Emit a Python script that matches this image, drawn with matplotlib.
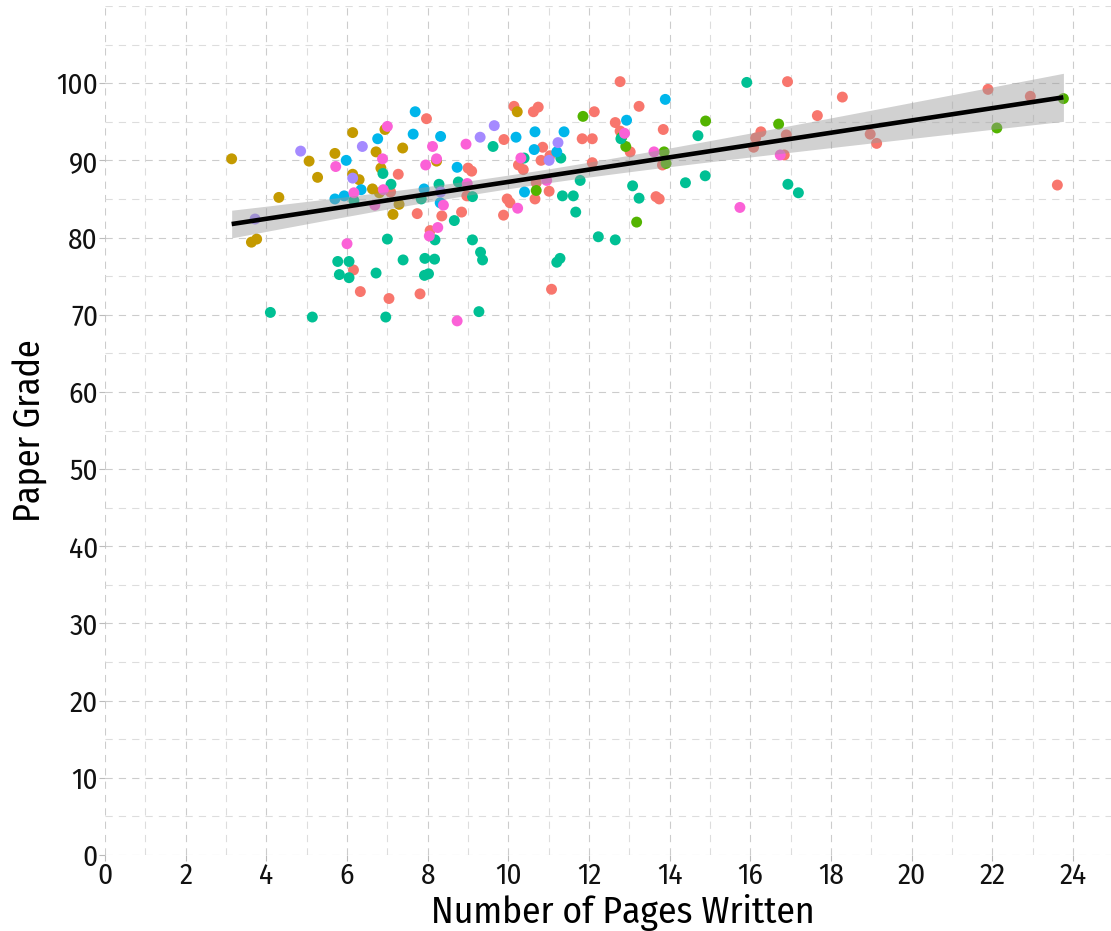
import numpy as np
import matplotlib
matplotlib.use("Agg")
import matplotlib.pyplot as plt
from matplotlib.ticker import MultipleLocator
from matplotlib import font_manager

avail = {f.name for f in font_manager.fontManager.ttflist}
fam = 'Lato'
for cand in ['Fira Sans Condensed', 'Roboto Condensed', 'Liberation Sans Narrow', 'Open Sans Condensed', 'Lato']:
    if cand in avail:
        fam = cand
        break
plt.rcParams['font.family'] = [fam, 'DejaVu Sans']

# ---- data ----
red_x = [7.27, 7.08, 7.74, 6.16, 6.33, 7.04, 7.97, 8.35, 8.06, 7.81, 8.84, 9.00, 9.09, 8.97, 9.88, 9.97, 10.04,
         9.89, 10.14, 10.62, 10.74, 10.25, 10.37, 10.85, 10.81, 11.03, 10.66, 10.69, 11.01, 11.07, 11.83, 12.08,
         12.13, 12.65, 12.08, 12.77, 13.24, 12.77, 12.85, 13.02, 13.84, 13.82, 13.66, 13.74, 16.08, 16.13, 16.26,
         16.89, 16.84, 16.92, 17.66, 18.28, 18.97, 19.13, 21.89, 22.94, 23.61]
red_y = [88.2, 85.9, 83.1, 75.8, 73.0, 72.1, 95.4, 82.8, 80.9, 72.7, 83.3, 89.0, 88.6, 85.4, 82.9, 85.0, 84.5,
         92.7, 97.0, 96.3, 96.9, 89.4, 88.8, 91.7, 90.0, 90.6, 85.0, 87.1, 86.0, 73.3, 92.8, 92.8,
         96.3, 94.9, 89.7, 100.2, 97.0, 93.8, 93.5, 91.1, 94.0, 89.4, 85.3, 85.0, 91.7, 92.9, 93.7,
         93.3, 90.7, 100.2, 95.8, 98.2, 93.4, 92.2, 99.2, 98.3, 86.8]

olive_x = [3.14, 3.63, 3.76, 4.31, 5.06, 5.27, 5.70, 6.14, 6.14, 6.30, 6.72, 6.84, 6.63, 6.80, 6.94, 7.38,
           7.14, 7.29, 8.22, 10.22]
olive_y = [90.2, 79.4, 79.8, 85.2, 89.9, 87.8, 90.9, 93.6, 88.2, 87.5, 91.1, 89.0, 86.3, 85.8, 94.0, 91.6,
           83.0, 84.3, 89.9, 96.3]

green_x = [11.85, 10.69, 12.81, 12.91, 13.86, 13.91, 13.18, 14.89, 16.70, 22.11, 23.76]
green_y = [95.7, 86.1, 93.0, 91.8, 91.1, 89.6, 82.0, 95.1, 94.7, 94.2, 98.0]

teal_x = [4.10, 5.14, 6.96, 5.77, 6.05, 5.81, 6.05, 6.72, 7.00, 7.39, 6.89, 7.09, 6.17, 7.93, 8.17, 7.92,
          8.02, 8.18, 8.66, 8.28, 8.76, 9.11, 9.11, 9.31, 9.36, 9.27, 9.62, 10.39, 11.30, 11.78, 11.34,
          11.61, 11.67, 11.20, 11.28, 12.23, 12.65, 7.84, 15.91, 13.08, 13.24, 14.39, 14.88, 14.70, 16.93,
          17.19, 12.79]
teal_y = [70.3, 69.7, 69.7, 76.9, 76.9, 75.2, 74.8, 75.4, 79.8, 77.1, 88.3, 86.9, 84.8, 77.3, 77.2, 75.1,
          75.3, 79.7, 82.2, 86.9, 87.2, 85.3, 79.7, 78.1, 77.1, 70.4, 91.8, 90.3, 90.3, 87.4, 85.4,
          85.4, 83.3, 76.8, 77.3, 80.1, 79.7, 85.0, 100.1, 86.7, 85.1, 87.1, 88.0, 93.2, 86.9,
          85.8, 92.8]

blue_x = [7.69, 8.32, 7.64, 6.76, 5.98, 6.35, 5.93, 5.70, 7.91, 8.31, 8.73, 10.19, 10.66, 10.64, 11.38,
          11.20, 10.40, 13.89, 12.93]
blue_y = [96.3, 93.1, 93.4, 92.8, 90.0, 86.2, 85.4, 85.0, 86.3, 84.5, 89.1, 93.0, 93.7, 91.4, 93.7,
          91.1, 85.9, 97.9, 95.2]

purple_x = [4.85, 3.72, 6.38, 6.14, 9.65, 9.30, 11.23, 11.01, 8.32]
purple_y = [91.2, 82.4, 91.8, 87.7, 94.5, 93.0, 92.3, 90.0, 85.9]

pink_x = [7.00, 8.12, 7.95, 8.22, 6.88, 5.72, 6.17, 6.90, 6.69, 8.25, 8.39, 6.00, 8.95, 8.98, 8.04, 8.73,
          10.23, 10.95, 10.31, 12.88, 13.61, 15.74, 16.74]
pink_y = [94.4, 91.8, 89.4, 90.2, 90.2, 89.2, 85.8, 86.2, 84.2, 81.3, 84.2, 79.2, 92.1, 87.0, 80.2, 69.2,
          83.8, 87.4, 90.3, 93.5, 91.1, 83.9, 90.7]

x_ticks = list(range(0, 25, 2))
y_ticks = list(range(0, 101, 10))

groups = [
    (red_x, red_y, '#F8766D'),
    (olive_x, olive_y, '#C49A00'),
    (green_x, green_y, '#53B400'),
    (teal_x, teal_y, '#00C094'),
    (blue_x, blue_y, '#00B6EB'),
    (purple_x, purple_y, '#A58AFF'),
    (pink_x, pink_y, '#FB61D7'),
]

fig = plt.figure(figsize=(11.11, 9.31), dpi=100)
ax = fig.add_axes([105 / 1111, 1 - 855 / 931, 1 - 105 / 1111, (855 - 6) / 931])

for gx, gy, col in groups:
    ax.scatter(gx, gy, s=62, color=col, edgecolors='none', zorder=2)

# linear fit with 95% confidence band
all_x = np.concatenate([np.asarray(g[0]) for g in groups])
all_y = np.concatenate([np.asarray(g[1]) for g in groups])
n = len(all_x)
b1, b0 = np.polyfit(all_x, all_y, 1)
resid = all_y - (b0 + b1 * all_x)
s = np.sqrt(np.sum(resid ** 2) / (n - 2))
xm = all_x.mean()
sxx = np.sum((all_x - xm) ** 2)
xs = np.linspace(all_x.min(), all_x.max(), 100)
fit = b0 + b1 * xs
se = s * np.sqrt(1 / n + (xs - xm) ** 2 / sxx)
tval = 1.973
ax.fill_between(xs, fit - tval * se, fit + tval * se, color='#999999', alpha=0.45,
                linewidth=0, zorder=3)
ax.plot(xs, fit, color='black', linewidth=3.3, zorder=4, solid_capstyle='butt')

ax.set_xlim(0, 24.94)
ax.set_ylim(0, 110)
ax.xaxis.set_major_locator(plt.FixedLocator(x_ticks))
ax.yaxis.set_major_locator(plt.FixedLocator(y_ticks))
ax.xaxis.set_minor_locator(MultipleLocator(1))
ax.yaxis.set_minor_locator(MultipleLocator(5))

ax.grid(True, which='major', color='#cccccc', linewidth=0.8, linestyle=(0, (6.5, 5.5)), zorder=0)
ax.grid(True, which='minor', color='#dddddd', linewidth=0.8, linestyle=(0, (6.5, 5.5)), zorder=0)
ax.set_axisbelow(True)
for sp in ax.spines.values():
    sp.set_visible(False)

ax.tick_params(axis='both', which='major', length=4, width=0.8, color='#bbbbbb',
               labelsize=21, labelcolor='#111111', pad=1)
ax.tick_params(axis='both', which='minor', length=0)

ax.set_xlabel('Number of Pages Written', fontsize=27)
ax.set_ylabel('Paper Grade', fontsize=26)
ax.xaxis.set_label_coords(0.515, -0.046)
ax.yaxis.set_label_coords(-0.057, 0.5)

fig.savefig('out.png', dpi=100)
